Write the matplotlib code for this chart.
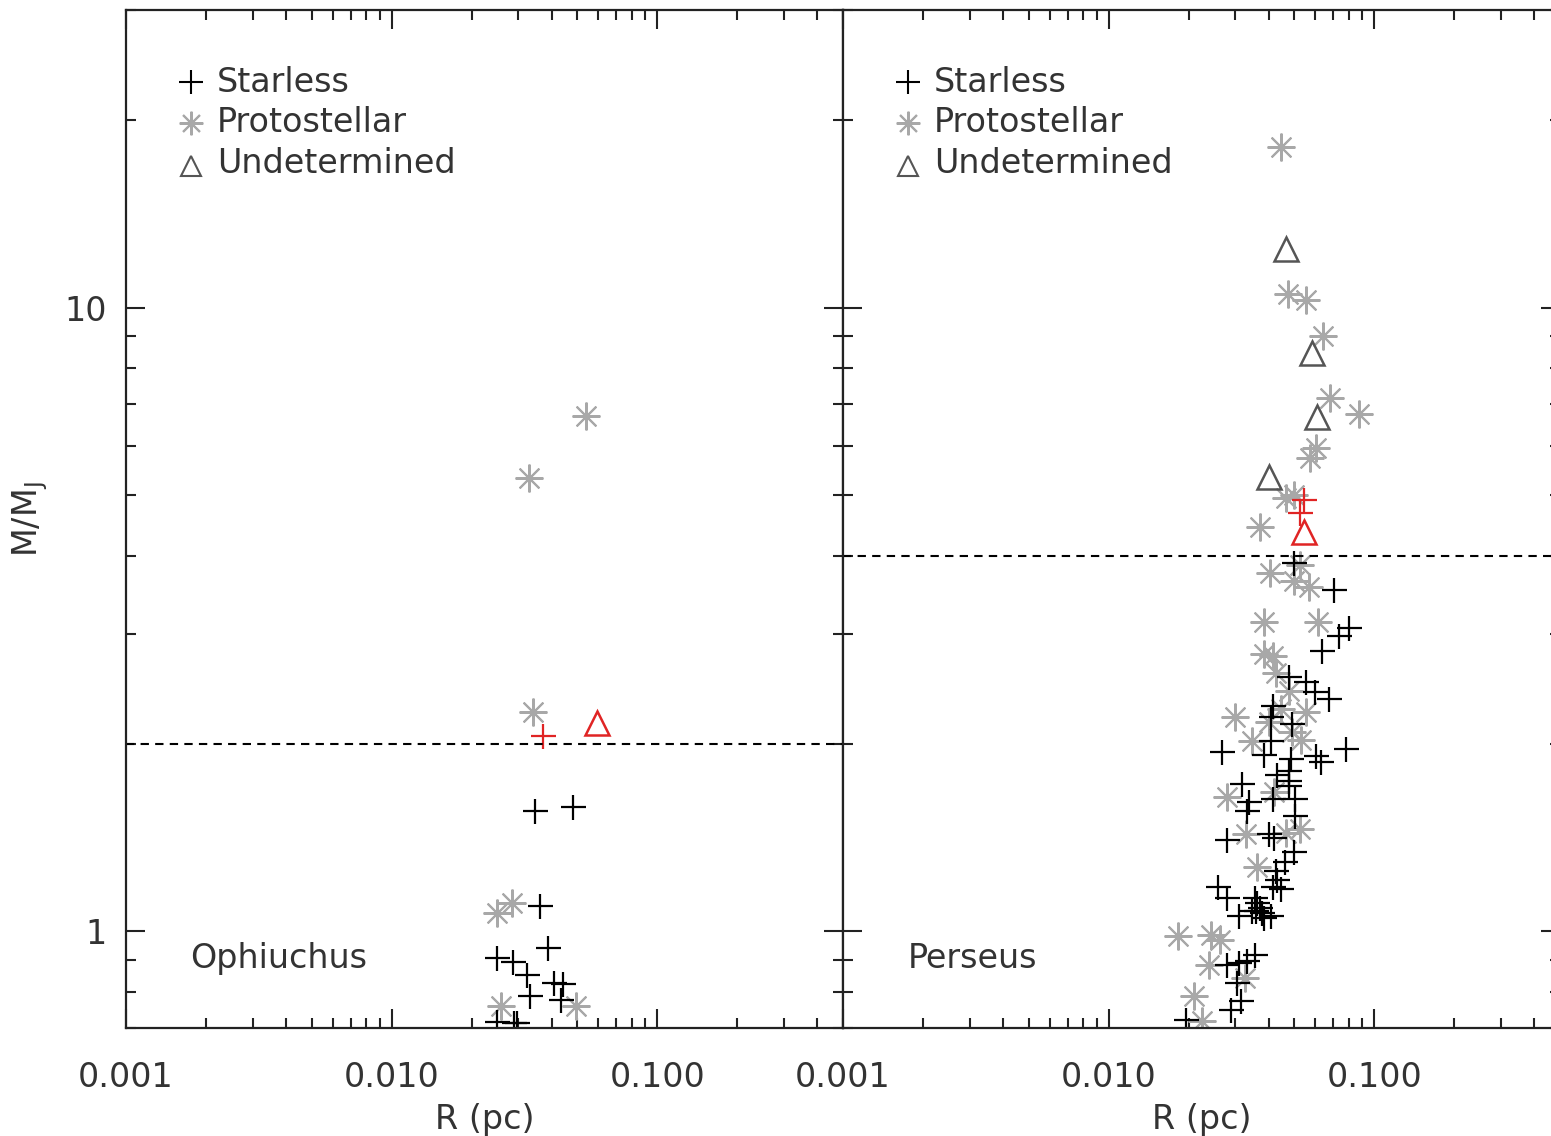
import matplotlib
matplotlib.use("Agg")
import matplotlib.pyplot as plt
from matplotlib.ticker import LogLocator, FixedLocator, FormatStrFormatter, NullFormatter

# Ophiuchus cores: radius (pc) and M / M_J
oph_starless_r = [0.0345, 0.0483, 0.0363, 0.0389, 0.025, 0.0287, 0.0322, 0.041, 0.044,
                  0.0332, 0.0435, 0.025, 0.0288, 0.0296]
oph_starless_m = [1.56, 1.58, 1.10, 0.939, 0.905, 0.892, 0.851, 0.826, 0.822,
                  0.787, 0.776, 0.716, 0.714, 0.714]
oph_proto_r = [0.054, 0.033, 0.0339, 0.025, 0.0285, 0.0259, 0.0495]
oph_proto_m = [6.70, 5.33, 2.25, 1.07, 1.11, 0.759, 0.759]
oph_undet_r = []
oph_undet_m = []
oph_flag_starless_r = [0.0372]
oph_flag_starless_m = [2.06]
oph_flag_undet_r = [0.0594]
oph_flag_undet_m = [2.16]
oph_threshold = 2.0

# Perseus cores
per_starless_r = [0.050, 0.0708, 0.0805, 0.0738, 0.0638, 0.0479, 0.0553, 0.0597, 0.0674,
                  0.0414, 0.0410, 0.049, 0.041, 0.0785, 0.0266, 0.0386, 0.0605, 0.063,
                  0.0487, 0.0479, 0.0429, 0.0479, 0.0319, 0.0479, 0.0338, 0.0333, 0.0414,
                  0.0505, 0.0505, 0.040, 0.042, 0.0278, 0.050, 0.0463, 0.0425, 0.0429,
                  0.0444, 0.0414, 0.0257, 0.0278, 0.0356, 0.0363, 0.0370, 0.0359, 0.0378,
                  0.0386, 0.0345, 0.031, 0.041, 0.0278, 0.031, 0.0333, 0.0356, 0.0305,
                  0.0316, 0.029, 0.0196]
per_starless_m = [3.90, 3.53, 3.07, 2.97, 2.81, 2.56, 2.51, 2.42, 2.36,
                  2.30, 2.21, 2.15, 2.02, 1.96, 1.94, 1.92, 1.91, 1.87,
                  1.89, 1.81, 1.78, 1.74, 1.72, 1.71, 1.61, 1.56, 1.63,
                  1.63, 1.53, 1.43, 1.41, 1.40, 1.34, 1.29, 1.25, 1.21,
                  1.17, 1.18, 1.18, 1.13, 1.13, 1.11, 1.09, 1.08, 1.07,
                  1.05, 1.08, 1.06, 1.06, 0.882, 0.889, 0.895, 0.915, 0.826,
                  0.773, 0.748, 0.721]
per_proto_r = [0.0447, 0.0475, 0.0551, 0.0643, 0.0684, 0.0879, 0.0605, 0.0574, 0.0467,
               0.050, 0.037, 0.0526, 0.0406, 0.050, 0.0567, 0.0386, 0.0612, 0.0386,
               0.0414, 0.0425, 0.0479, 0.0298, 0.0553, 0.0446, 0.0403, 0.0345, 0.049,
               0.0528, 0.028, 0.0418, 0.0330, 0.0467, 0.0523, 0.0363, 0.0182, 0.0243,
               0.0262, 0.0239, 0.0326, 0.021, 0.0225]
per_proto_m = [18.1, 10.5, 10.3, 9.02, 7.16, 6.75, 5.95, 5.74, 4.95,
               5.01, 4.45, 3.87, 3.76, 3.64, 3.56, 3.13, 3.13, 2.78,
               2.76, 2.60, 2.43, 2.21, 2.25, 2.27, 2.17, 2.02, 2.09,
               2.03, 1.64, 1.67, 1.43, 1.44, 1.46, 1.27, 0.982, 0.985,
               0.967, 0.882, 0.841, 0.787, 0.718]
per_undet_r = [0.0467, 0.0585, 0.061, 0.0403]
per_undet_m = [12.4, 8.47, 6.67, 5.35]
per_flag_starless_r = [0.0546, 0.0523]
per_flag_starless_m = [4.92, 4.69]
per_flag_undet_r = [0.0546]
per_flag_undet_m = [4.37]
per_threshold = 4.0

FONT = ["DejaVu Sans"]
FS = 24
TXT = "#333333"
GREY = "#a8a8a8"
DARK = "#555555"
RED = "#e02424"
ASTER = (8, 2, 0)
MS = 17

plt.rcParams["font.family"] = FONT
plt.rcParams["mathtext.fontset"] = "dejavusans"

W, H = 1551, 1136
fig = plt.figure(figsize=(W / 100, H / 100), dpi=100)
bottom = (H - 1028) / H
height = 1018 / H
ax_l = fig.add_axes([126 / W, bottom, 717 / W, height])
ax_r = fig.add_axes([843 / W, bottom, 717 / W, height])

panels = [
    (ax_l, "Ophiuchus", oph_starless_r, oph_starless_m, oph_proto_r, oph_proto_m,
     oph_undet_r, oph_undet_m, oph_flag_starless_r, oph_flag_starless_m,
     oph_flag_undet_r, oph_flag_undet_m, oph_threshold),
    (ax_r, "Perseus", per_starless_r, per_starless_m, per_proto_r, per_proto_m,
     per_undet_r, per_undet_m, per_flag_starless_r, per_flag_starless_m,
     per_flag_undet_r, per_flag_undet_m, per_threshold),
]

for (ax, name, sr, sm, pr, pm, ur, um, fsr, fsm, fur, fum, thr) in panels:
    ax.set_xscale("log")
    ax.set_yscale("log")
    ax.set_xlim(0.001, 0.5)
    ax.set_ylim(0.7, 30)

    ax.plot(pr, pm, linestyle="none", marker=ASTER, ms=MS + 3, mew=1.5, color=GREY)
    ax.plot(sr, sm, linestyle="none", marker="+", ms=MS + 1, mew=1.6, color="black")
    ax.plot(ur, um, linestyle="none", marker="^", ms=MS, mew=1.8, mfc="none", mec=DARK)
    ax.plot(fsr, fsm, linestyle="none", marker="+", ms=MS + 1, mew=1.6, color=RED)
    ax.plot(fur, fum, linestyle="none", marker="^", ms=MS, mew=1.8, mfc="none", mec=RED)

    ax.axhline(thr, color="black", lw=1.5, linestyle=(0, (4, 3)))

    # legend drawn as marker + text pairs
    rows = [("+", "black", "Starless"), (ASTER, GREY, "Protostellar"),
            ("^", DARK, "Undetermined")]
    for i, (mk, col, lab) in enumerate(rows):
        yy = 0.929 - i * 0.040
        if mk == "^":
            ax.plot(0.09, yy - 0.002, transform=ax.transAxes, marker=mk, ms=14, mew=1.5,
                    mfc="none", mec=col, clip_on=False)
        else:
            ax.plot(0.09, yy, transform=ax.transAxes, marker=mk, ms=17, mew=1.5,
                    color=col, clip_on=False)
        ax.text(0.127, yy, lab, transform=ax.transAxes, fontsize=FS,
                va="center", ha="left", color=TXT)

    ax.text(0.09, 0.068, name, transform=ax.transAxes, fontsize=FS,
            va="center", ha="left", color=TXT)

    ax.xaxis.set_major_locator(FixedLocator([0.001, 0.01, 0.1]))
    ax.xaxis.set_major_formatter(FormatStrFormatter("%.3f"))
    ax.xaxis.set_minor_locator(LogLocator(base=10, subs=range(2, 10), numticks=20))
    ax.xaxis.set_minor_formatter(NullFormatter())
    ax.yaxis.set_major_locator(FixedLocator([1, 10]))
    ax.yaxis.set_major_formatter(FormatStrFormatter("%d"))
    ax.yaxis.set_minor_locator(LogLocator(base=10, subs=range(2, 10), numticks=20))
    ax.yaxis.set_minor_formatter(NullFormatter())

    ax.tick_params(which="both", direction="in", top=True, right=True,
                   width=1.5, color="#222222", labelsize=FS, labelcolor=TXT)
    ax.tick_params(axis="x", which="major", length=14, pad=24)
    ax.tick_params(axis="y", which="major", length=14, pad=14)
    ax.tick_params(which="minor", length=7)
    for sp in ax.spines.values():
        sp.set_linewidth(1.6)
        sp.set_color("#222222")

    ax.set_xlabel("R (pc)", fontsize=FS, color=TXT, labelpad=6)

ax_r.tick_params(axis="y", labelleft=False)
ax_l.set_ylabel("M/M$_\\mathregular{J}$", fontsize=FS, color=TXT, labelpad=10)

fig.savefig("out.png", dpi=100)
